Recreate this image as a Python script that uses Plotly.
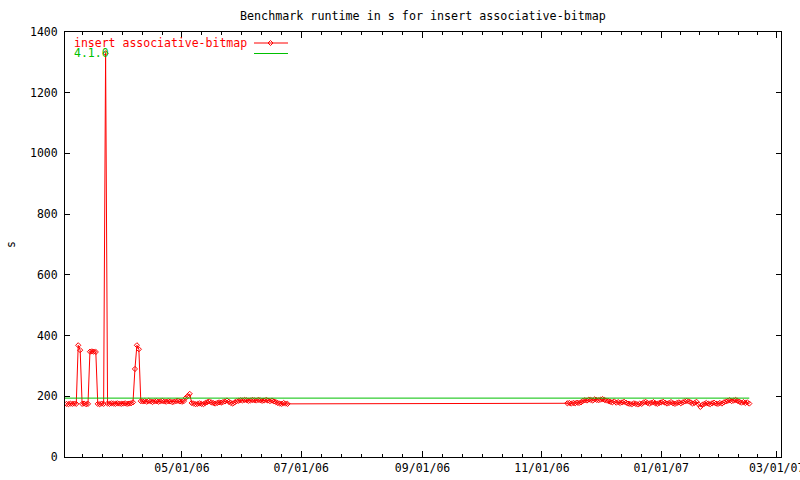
import pandas as pd
import plotly.graph_objects as go

# ---------------- data ----------------
title_text = "Benchmark runtime in s for insert associative-bitmap"
series_name = "insert associative-bitmap"
ref_name = "4.1.0"
y_label = "s"

# daily runs, first block (starts 2006-03-03)
start_a = "2006-03-03"
values_a = [
    175, 174, 176, 175, 176, 175, 368, 352, 175, 176,
    174, 175, 347, 348, 347, 346, 175, 174, 176, 175,
    1330, 176, 175, 177, 176, 175, 177, 176, 175, 176,
    177, 175, 176, 177, 180, 290, 368, 355, 184, 183,
    184, 182, 185, 183, 181, 183, 184, 182, 183, 185,
    183, 182, 184, 183, 181, 182, 184, 185, 183, 182,
    184, 195, 201, 208, 178, 176, 174, 175, 177, 175,
    174, 178, 181, 183, 180, 178, 176, 178, 180, 179,
    181, 183, 186, 182, 178, 176, 180, 184, 185, 187,
    186, 188, 187, 185, 186, 188, 187, 186, 188, 187,
    185, 186, 188, 186, 184, 186, 183, 181, 178, 176,
    175, 178, 176, 175,
]

# daily runs, second block (starts 2006-11-14)
start_b = "2006-11-14"
values_b = [
    177, 178, 176, 178, 177, 179, 178, 180,
    185, 187, 186, 189, 188, 186, 190, 188, 187, 189, 191, 188, 186, 184,
    182, 180, 183, 179, 181, 178, 180, 182, 179,
    176, 175, 174, 177, 175, 173, 176, 175,
    180, 182,
    178, 176, 179, 181, 177, 175, 178, 180, 182, 179, 176, 178, 181, 177, 175, 178, 180, 177,
    180, 183, 185, 183, 180, 176, 178, 182, 174, 165, 172,
    175, 178, 176, 174, 177, 179, 176, 175, 178, 176, 180, 183,
    185, 187, 184, 186, 188, 185,
    182, 179, 181, 178, 180, 176,
]

# reference version 4.1.0
ref_dates = ["2006-03-02", "2007-02-15"]
ref_values = [194, 194]

x_tick_dates = ["2006-05-01", "2006-07-01", "2006-09-01", "2006-11-01", "2007-01-01", "2007-03-01"]
x_tick_labels = ["05/01/06", "07/01/06", "09/01/06", "11/01/06", "01/01/07", "03/01/07"]
y_ticks = [0, 200, 400, 600, 800, 1000, 1200, 1400]

# ---------------- build ----------------
dates_a = pd.date_range(start_a, periods=len(values_a), freq="D")
dates_b = pd.date_range(start_b, periods=len(values_b), freq="D")
dates = list(dates_a) + list(dates_b)
values = values_a + values_b

RED = "#ff0000"
GREEN = "#00c000"
FONT = "DejaVu Sans Mono"
FS = 11.5

fig = go.Figure()
fig.add_trace(go.Scatter(
    x=dates, y=values, name=series_name, mode="lines+markers",
    line=dict(color=RED, width=1),
    marker=dict(symbol="diamond-open", size=4, color=RED, line=dict(width=1, color=RED)),
))
fig.add_trace(go.Scatter(
    x=pd.to_datetime(ref_dates), y=ref_values, name=ref_name, mode="lines",
    line=dict(color=GREEN, width=1),
))

# minor ticks: each two-month interval split into 6
bounds = [pd.Timestamp("2006-03-01")] + [pd.Timestamp(d) for d in x_tick_dates]
minor_vals = []
for a, b in zip(bounds[:-1], bounds[1:]):
    for k in range(1, 6):
        minor_vals.append(a + (b - a) * k / 6)

L, R, T, B = 65, 19, 32, 23
W, H = 800, 480
pw, ph = W - L - R, H - T - B

def px(x):
    return (x - L) / pw

def py(y):
    return (H - B - y) / ph

fig.update_layout(
    width=W, height=H, autosize=False,
    margin=dict(l=L, r=R, t=T, b=B, pad=0),
    paper_bgcolor="white", plot_bgcolor="white",
    showlegend=False,
    font=dict(family=FONT, size=FS, color="black"),
    xaxis=dict(
        type="date",
        range=["2006-03-02 06:00", "2007-03-03 05:00"],
        tickmode="array", tickvals=pd.to_datetime(x_tick_dates), ticktext=x_tick_labels,
        ticks="inside", ticklen=6, tickcolor="black", tickwidth=1,
        minor=dict(tickmode="array", tickvals=minor_vals, ticks="inside", ticklen=3,
                   tickcolor="black", tickwidth=1, showgrid=False),
        showline=True, linecolor="black", linewidth=1, mirror="allticks",
        showgrid=False, zeroline=False, automargin=False,
        ticklabeloverflow="allow",
        tickfont=dict(family=FONT, size=FS, color="black"),
    ),
    yaxis=dict(
        range=[0, 1400],
        tickmode="array", tickvals=y_ticks,
        ticks="inside", ticklen=5, tickcolor="black", tickwidth=1,
        showline=True, linecolor="black", linewidth=1, mirror="allticks",
        showgrid=False, zeroline=False, automargin=False,
        tickfont=dict(family=FONT, size=FS, color="black"),
        ticklabelstandoff=4,
    ),
)

# title and axis label
fig.add_annotation(text=title_text, xref="paper", yref="paper", x=0.5, y=py(16),
                   xanchor="center", yanchor="middle", showarrow=False,
                   font=dict(family=FONT, size=11.7, color="black"))
fig.add_annotation(text=y_label, xref="paper", yref="paper", x=px(11), y=py(245),
                   xanchor="center", yanchor="middle", showarrow=False, textangle=-90,
                   font=dict(family=FONT, size=FS, color="black"))

# gnuplot-style legend (text left, sample right)
leg_rows = [(series_name, RED, 43), (ref_name, GREEN, 53.5)]
for name, col, yy in leg_rows:
    fig.add_annotation(text=name, xref="paper", yref="paper", x=px(72), y=py(yy),
                       xanchor="left", yanchor="middle", showarrow=False,
                       font=dict(family=FONT, size=11.5, color=col))
    fig.add_shape(type="line", xref="paper", yref="paper",
                  x0=px(254), x1=px(288), y0=py(yy), y1=py(yy),
                  line=dict(color=col, width=1))
# marker sample for first row
cx, cy, d = 270.5, 43, 2.5
fig.add_shape(type="path", xref="paper", yref="paper",
              path=(f"M {px(cx)},{py(cy - d)} L {px(cx + d)},{py(cy)} "
                    f"L {px(cx)},{py(cy + d)} L {px(cx - d)},{py(cy)} Z"),
              line=dict(color=RED, width=1), fillcolor="rgba(0,0,0,0)")

fig.write_html("out.html", config={"displayModeBar": False},
               post_script="document.body.style.margin='0px';")
